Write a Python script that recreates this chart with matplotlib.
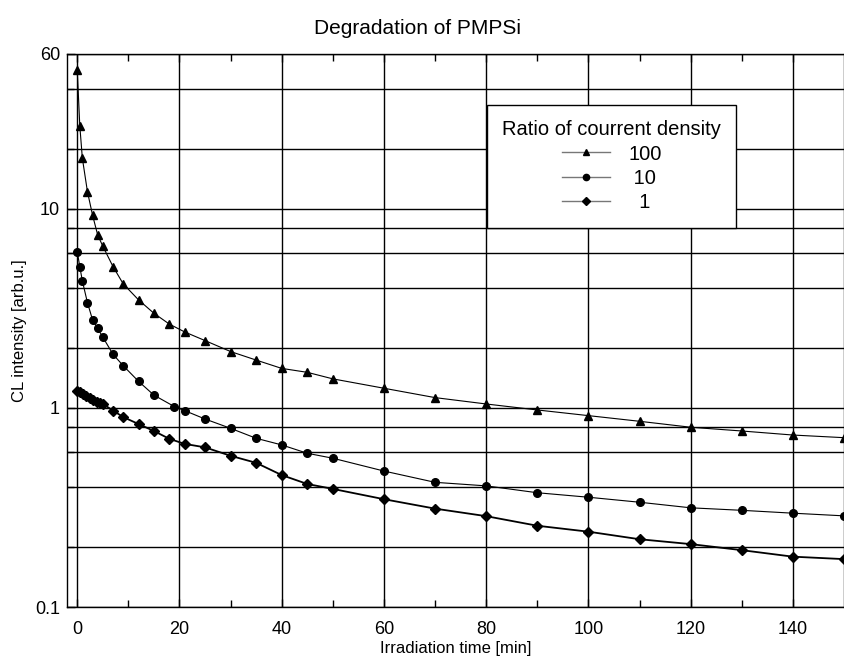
import matplotlib
matplotlib.use("Agg")
from matplotlib import pyplot as plt
from matplotlib.ticker import FixedLocator, NullFormatter, FixedFormatter

plt.rcParams['font.family'] = ['Liberation Sans', 'DejaVu Sans']

# ratio 100 (triangles)
t_100 = [0, 0.5, 1, 2, 3, 4, 5, 7, 9, 12, 15, 18, 21, 25, 30, 35, 40, 45, 50,
         60, 70, 80, 90, 100, 110, 120, 130, 140, 150]
cl_100 = [50, 26.2, 18.0, 12.2, 9.3, 7.4, 6.5, 5.13, 4.2, 3.49, 2.99, 2.64, 2.41,
          2.18, 1.92, 1.74, 1.58, 1.51, 1.40, 1.256, 1.127, 1.047, 0.977, 0.915,
          0.857, 0.80, 0.766, 0.731, 0.709]

# ratio 10 (circles)
t_10 = [0, 0.5, 1, 2, 3, 4, 5, 7, 9, 12, 15, 19, 21, 25, 30, 35, 40, 45, 50,
        60, 70, 80, 90, 100, 110, 120, 130, 140, 150]
cl_10 = [6.1, 5.13, 4.35, 3.38, 2.77, 2.51, 2.27, 1.86, 1.63, 1.36, 1.16, 1.016,
         0.97, 0.88, 0.79, 0.704, 0.652, 0.592, 0.559, 0.482, 0.423, 0.406,
         0.375, 0.356, 0.336, 0.315, 0.306, 0.296, 0.287]

# ratio 1 (diamonds)
t_1 = [0, 0.5, 1.2, 1.8, 2.5, 3.1, 3.8, 4.4, 5.1, 7, 9, 12, 15, 18, 21, 25, 30,
       35, 40, 45, 50, 60, 70, 80, 90, 100, 110, 120, 130, 140, 150]
cl_1 = [1.22, 1.20, 1.17, 1.144, 1.118, 1.092, 1.075, 1.055, 1.044, 0.97, 0.90,
        0.83, 0.766, 0.70, 0.66, 0.634, 0.575, 0.53, 0.46, 0.415, 0.392, 0.348,
        0.312, 0.286, 0.256, 0.239, 0.219, 0.207, 0.193, 0.179, 0.174]

y_major = [0.1, 1, 10, 60]
y_labels = ['0.1', '1', '10', '60']
y_minor = [0.2, 0.4, 0.6, 0.8, 2, 4, 6, 8, 20, 40]
x_major = [0, 20, 40, 60, 80, 100, 120, 140]
x_minor = [10, 30, 50, 70, 90, 110, 130]

fig = plt.figure(figsize=(8.44, 6.62), dpi=100)
ax = fig.add_axes([67 / 844, 1 - 607 / 662, 1 - 67 / 844, (607 - 54) / 662])

l100, = ax.plot(t_100, cl_100, color='black', lw=0.8, marker='^', ms=6)
l10, = ax.plot(t_10, cl_10, color='black', lw=0.8, marker='o', ms=5.5)
l1, = ax.plot(t_1, cl_1, color='black', lw=1.3, marker='D', ms=5)

ax.set_yscale('log')
ax.set_xlim(-2, 150)
ax.set_ylim(0.1, 60)

ax.yaxis.set_major_locator(FixedLocator(y_major))
ax.yaxis.set_major_formatter(FixedFormatter(y_labels))
ax.yaxis.set_minor_locator(FixedLocator(y_minor))
ax.yaxis.set_minor_formatter(NullFormatter())
ax.xaxis.set_major_locator(FixedLocator(x_major))
ax.xaxis.set_minor_locator(FixedLocator(x_minor))

ax.grid(True, which='major', axis='both', color='black', lw=1.0)
ax.grid(True, which='minor', axis='y', color='black', lw=1.0)
ax.tick_params(which='both', direction='in', top=True, right=False,
               labelsize=13, width=1, color='black')
ax.tick_params(which='major', length=6)
ax.tick_params(which='minor', length=5)
ax.tick_params(axis='x', which='major', pad=10)
ax.tick_params(axis='y', which='major', pad=5)
for s in ax.spines.values():
    s.set_linewidth(1.0)
ax.set_axisbelow(True)

fig.text(0.495, 1 - 28 / 662, "Degradation of PMPSi", ha='center', va='center',
         fontsize=15)
ax.set_xlabel("Irradiation time [min]", fontsize=12, labelpad=2)
ax.set_ylabel("CL intensity [arb.u.]", fontsize=12, labelpad=6)

leg = ax.legend([l100, l10, l1], ["100", " 10", "  1"],
                title="Ratio of courrent density", loc='upper left',
                bbox_to_anchor=((487 - 67) / 777, (607 - 105) / 553),
                fontsize=14.5, title_fontsize=14.5, frameon=True, fancybox=False,
                edgecolor='black', framealpha=1, borderpad=0.75,
                handlelength=2.4, handletextpad=0.9, labelspacing=0.27,
                alignment='center', borderaxespad=0)
leg.get_frame().set_linewidth(1.0)
for h in leg.legend_handles:
    h.set_color('#777777')
    h.set_markerfacecolor('black')
    h.set_markeredgecolor('black')
    h.set_markersize(4.5)
    h.set_linewidth(1.0)

fig.savefig('out.png', dpi=100)
